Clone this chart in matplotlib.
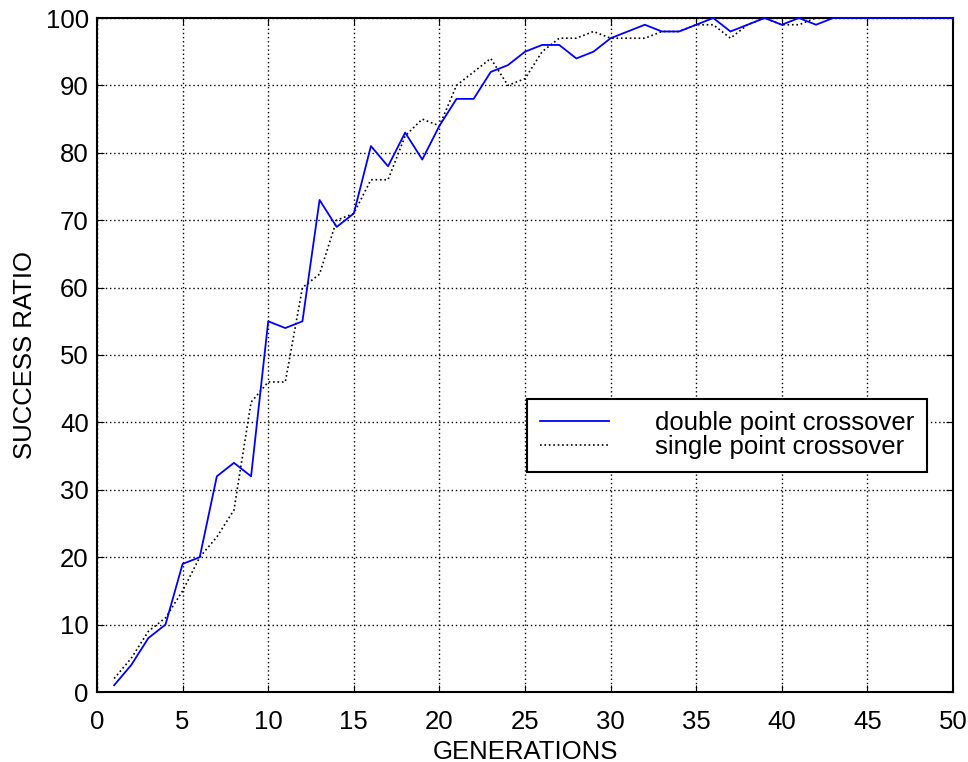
import matplotlib
matplotlib.use('Agg')
import matplotlib.pyplot as plt

plt.rcParams['font.family'] = ['Liberation Sans', 'DejaVu Sans']

# generation numbers
generations = list(range(1, 51))

# success ratio, double point crossover (blue solid)
double_point = [1, 4, 8, 10, 19, 20, 32, 34, 32, 55,
                54, 55, 73, 69, 71, 81, 78, 83, 79, 84,
                88, 88, 92, 93, 95, 96, 96, 94, 95, 97,
                98, 99, 98, 98, 99, 100, 98, 99, 100, 99,
                100, 99, 100, 100, 100, 100, 100, 100, 100, 100]

# success ratio, single point crossover (black dotted)
single_point = [2, 5, 9, 11, 15, 20, 23, 27, 43, 46,
                46, 60, 62, 70, 71, 76, 76, 82.5, 85, 84,
                90, 92, 94, 90, 91, 95, 97, 97, 98, 97,
                97, 97, 98, 98, 99, 99, 97, 99, 100, 99,
                99, 100, 100, 100, 100, 100, 100, 100, 100, 100]

fs = 18.5

fig = plt.figure(figsize=(9.68, 7.62), dpi=100)
ax = fig.add_axes([97 / 968, 70 / 762, 856 / 968, 674 / 762])

ax.plot(generations, double_point, color='blue', linewidth=1.3,
        label='double point crossover', zorder=4, clip_on=False)
ax.plot(generations, single_point, color='black', linestyle=':', linewidth=1.2,
        label='single point crossover', zorder=3, clip_on=False)

ax.set_xlim(0, 50)
ax.set_ylim(0, 100)
ax.set_xticks(range(0, 51, 5))
ax.set_yticks(range(0, 101, 10))
ax.grid(True, color='black', linestyle=(0, (1, 2)), linewidth=1.0)
ax.tick_params(direction='in', labelsize=fs, length=5, top=True, right=True)
ax.tick_params(axis='x', pad=13)
ax.tick_params(axis='y', pad=6)
for s in ax.spines.values():
    s.set_linewidth(1.5)

ax.set_xlabel('GENERATIONS', fontsize=fs, labelpad=4)
ax.set_ylabel('SUCCESS RATIO', fontsize=fs, labelpad=6)

leg = ax.legend(loc='lower left', bbox_to_anchor=(0.502, 0.326), fontsize=fs,
                handlelength=2.7, handletextpad=1.8, borderpad=0.5,
                labelspacing=0.0, fancybox=False, framealpha=1,
                edgecolor='black', borderaxespad=0)
leg.get_frame().set_linewidth(1.5)

fig.savefig('out.png', dpi=100)
